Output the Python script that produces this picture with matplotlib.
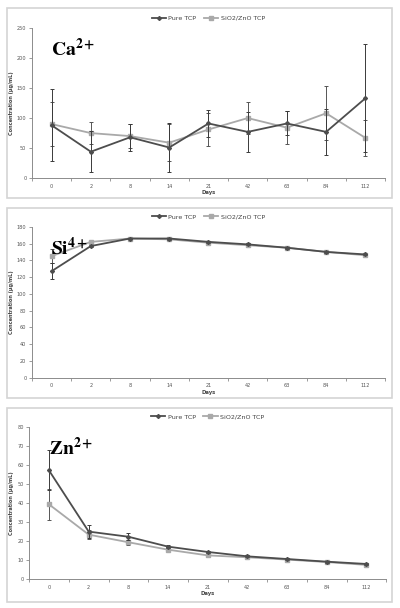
import matplotlib
matplotlib.use("Agg")
import matplotlib.pyplot as plt
from matplotlib.patches import Rectangle
from matplotlib.lines import Line2D

days = ["0", "2", "8", "14", "21", "42", "63", "84", "112"]

# Ca2+
ca_pure = [88, 44, 68, 51, 91, 77, 91, 77, 133]
ca_pure_err = [60, 34, 22, 40, 22, 33, 20, 38, 90]
ca_zno = [90, 75, 70, 59, 81, 100, 84, 108, 67]
ca_zno_err = [36, 18, 20, 31, 27, 27, 27, 45, 30]

# Si4+
si_pure = [127, 157, 166, 166, 162, 159, 155, 150, 147]
si_pure_err = [9.5, 1.5, 1, 1.2, 1, 1.2, 1, 1, 1]
si_zno = [145, 162, 166, 165, 161, 158, 155, 150, 146]
si_zno_err = [8, 1.2, 1, 1, 1, 1, 1, 1, 1]

# Zn2+
zn_pure = [57, 24.9, 22.2, 17.0, 14.2, 11.9, 10.5, 9.1, 7.9]
zn_pure_err = [10.5, 3.3, 1.8, 0.8, 0.7, 0.6, 0.6, 0.5, 0.5]
zn_zno = [39.2, 23.3, 19.3, 15.4, 12.4, 11.4, 10.2, 8.9, 7.4]
zn_zno_err = [8, 2.5, 1.4, 0.7, 0.6, 0.5, 0.8, 0.5, 0.5]

dark = "#4d4d4d"
light = "#a9a9a9"
axis_col = "#8c8c8c"

plt.rcParams["mathtext.fontset"] = "stix"

fig = plt.figure(figsize=(4, 6.08), dpi=100)

panels = [
    # (pure, pure_err, zno, zno_err, ymax, ystep, ion, axes rect, frame rect)
    (ca_pure, ca_pure_err, ca_zno, ca_zno_err, 250, 50, r"$\mathbf{Ca}^{\mathbf{2+}}$",
     [0.08, 0.707, 0.8825, 0.247], [0.018, 0.675, 0.963, 0.312]),
    (si_pure, si_pure_err, si_zno, si_zno_err, 180, 20, r"$\mathbf{Si}^{\mathbf{4+}}$",
     [0.08, 0.379, 0.8825, 0.248], [0.018, 0.346, 0.963, 0.312]),
    (zn_pure, zn_pure_err, zn_zno, zn_zno_err, 80, 10, r"$\mathbf{Zn}^{\mathbf{2+}}$",
     [0.073, 0.0477, 0.8925, 0.2505], [0.018, 0.010, 0.963, 0.319]),
]

x = list(range(len(days)))

handles = [
    Line2D([0], [0], color=dark, marker="D", markersize=2.0, linewidth=1.3),
    Line2D([0], [0], color=light, marker="s", markersize=2.2, linewidth=1.3),
]

for pure, pure_err, zno, zno_err, ymax, ystep, ion, rect, frame in panels:
    fig.patches.append(Rectangle((frame[0], frame[1]), frame[2], frame[3],
                                 transform=fig.transFigure, fill=False,
                                 edgecolor="#d4d4d4", linewidth=1.2))
    ax = fig.add_axes(rect)
    ax.errorbar(x, pure, yerr=pure_err, color=dark, marker="D", markersize=2.0,
                linewidth=1.3, elinewidth=0.7, capsize=1.5, capthick=0.7,
                ecolor="#3a3a3a", zorder=3)
    ax.errorbar(x, zno, yerr=zno_err, color=light, marker="s", markersize=2.2,
                linewidth=1.3, elinewidth=0.7, capsize=1.5, capthick=0.7,
                ecolor="#555555", zorder=2)

    ax.set_xlim(-0.5, len(days) - 0.5)
    ax.set_ylim(0, ymax)
    ax.set_yticks(range(0, ymax + 1, ystep))
    ax.set_xticks(x)
    ax.set_xticklabels(days)
    ax.set_xticks([i + 0.5 for i in range(-1, len(days))], minor=True)
    ax.tick_params(axis="x", which="major", length=0, labelsize=3.6,
                   labelcolor="#555555", pad=4)
    ax.tick_params(axis="x", which="minor", length=2, color=axis_col, width=0.6)
    ax.tick_params(axis="y", length=2, color=axis_col, width=0.6, labelsize=3.6,
                   labelcolor="#555555", pad=2)
    for s in ["top", "right"]:
        ax.spines[s].set_visible(False)
    for s in ["left", "bottom"]:
        ax.spines[s].set_color(axis_col)
        ax.spines[s].set_linewidth(0.7)

    ax.set_xlabel("Days", fontsize=3.8, fontweight="bold", color="#444444", labelpad=1)
    ax.set_ylabel("Concentration (µg/mL)", fontsize=3.6, fontweight="bold",
                  color="#444444", labelpad=2)

    ax.text(0.055, 0.93, ion, transform=ax.transAxes, ha="left", va="top",
            fontsize=14)

    leg = ax.legend(handles, ["Pure TCP", "SiO2/ZnO TCP"], loc="lower center",
                    bbox_to_anchor=(0.5, 1.03), ncol=2, frameon=False,
                    fontsize=4.6, handlelength=2.2, columnspacing=1.2,
                    handletextpad=0.4, borderaxespad=0)
    for t in leg.get_texts():
        t.set_color("#444444")

fig.savefig("out.png", dpi=100)
